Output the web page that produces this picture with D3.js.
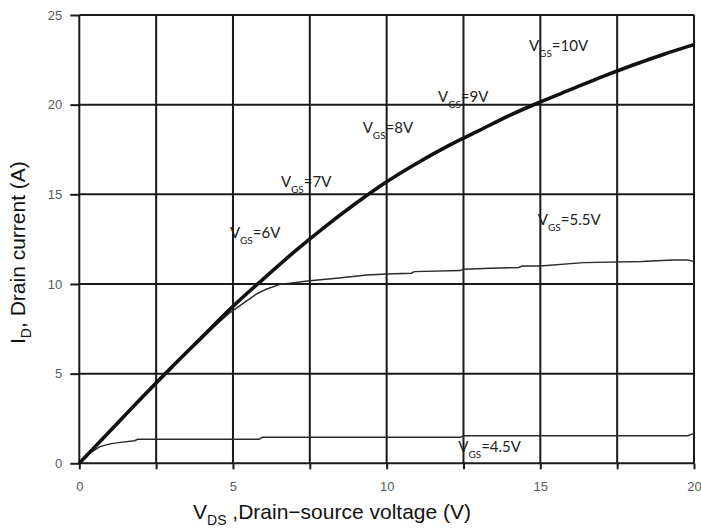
<!DOCTYPE html>
<html>
<head>
<meta charset="utf-8">
<script src="https://cdn.jsdelivr.net/npm/d3@7"></script>
<style>
  body { margin: 0; background: #fff; }
  svg { display: block; }
</style>
</head>
<body>
<div id="chart"></div>
<script>
// Grid and ticks
const xGrid = [0, 2.5, 5, 7.5, 10, 12.5, 15, 17.5, 20];
const xTickLabels = [0, 5, 10, 15, 20];
const yGrid = [0, 5, 10, 15, 20, 25];

// VGS = 6..10 V curves overlap into one thick line
const vdsHigh = [0, 1, 2, 3, 4, 5, 6, 7, 8, 9, 10, 11, 12, 13, 14, 15, 16, 17, 18, 19, 20];
const idHigh = [0, 1.8, 3.6, 5.35, 7.05, 8.75, 10.3, 11.8, 13.2, 14.5, 15.7, 16.75, 17.7, 18.55, 19.4, 20.15, 20.85, 21.55, 22.2, 22.8, 23.35];

// VGS = 5.5 V
const vds55 = [0, 1, 2, 3, 4, 4.5, 4.92, 5.4, 5.77, 6.1, 6.53, 7.5, 8.37, 9.35, 10, 10.8, 10.9, 12.4, 12.5, 13.4, 14.3, 14.4, 15, 16.4, 18.3, 19.3, 19.8, 20];
const id55 = [0, 1.8, 3.6, 5.35, 7.0, 7.8, 8.42, 9.0, 9.45, 9.72, 9.98, 10.18, 10.32, 10.5, 10.56, 10.6, 10.69, 10.75, 10.82, 10.88, 10.92, 11.0, 11.0, 11.19, 11.25, 11.34, 11.34, 11.25];

// VGS = 4.5 V
const vds45 = [0, 0.33, 0.67, 1.0, 1.33, 1.8, 1.9, 5.85, 5.95, 12.4, 12.5, 19.8, 20];
const id45 = [0, 0.55, 0.93, 1.08, 1.17, 1.26, 1.34, 1.34, 1.45, 1.45, 1.54, 1.54, 1.67];

// Curve annotations
const labelText = ["=10V", "=9V", "=8V", "=7V", "=6V", "=5.5V", "=4.5V"];
const labelVds = [14.63, 11.67, 9.22, 6.56, 4.9, 14.92, 12.33];
const labelId = [23.0, 20.15, 18.44, 15.4, 12.56, 13.29, 0.63];

const width = 701, height = 529;
const svg = d3.select('#chart').append('svg')
  .attr('width', width)
  .attr('height', height);

const x = d3.scaleLinear().domain([0, 20]).range([79.3, 694]);
const y = d3.scaleLinear().domain([0, 25]).range([463.3, 15]);

const gridColor = '#1a1a1a';

// grid lines
svg.append('g').selectAll('line')
  .data(xGrid).enter().append('line')
  .attr('x1', d => x(d)).attr('x2', d => x(d))
  .attr('y1', y(0)).attr('y2', y(25))
  .attr('stroke', gridColor).attr('stroke-width', 2);

svg.append('g').selectAll('line')
  .data(yGrid).enter().append('line')
  .attr('x1', x(0)).attr('x2', x(20))
  .attr('y1', d => y(d)).attr('y2', d => y(d))
  .attr('stroke', gridColor).attr('stroke-width', 2);

// axes (tick marks outside + labels)
const xAxis = svg.append('g')
  .attr('transform', `translate(0,${y(0)})`)
  .call(d3.axisBottom(x).tickValues(xGrid).tickSize(6).tickPadding(12)
    .tickFormat(d => xTickLabels.includes(d) ? d : ''));
const yAxis = svg.append('g')
  .attr('transform', `translate(${x(0)},0)`)
  .call(d3.axisLeft(y).tickValues(yGrid).tickSize(9).tickPadding(8));

[xAxis, yAxis].forEach(g => {
  g.select('.domain').remove();
  g.selectAll('.tick line').attr('stroke', gridColor).attr('stroke-width', 2);
  g.selectAll('.tick text')
    .attr('fill', '#555a60')
    .style('font-family', 'Liberation Sans, Arial, sans-serif')
    .style('font-size', '13px');
});

const line = d3.line().x(d => x(d[0])).y(d => y(d[1]));

// thin curves
svg.append('path')
  .datum(d3.zip(vds55, id55))
  .attr('d', line).attr('fill', 'none')
  .attr('stroke', '#2a2a2a').attr('stroke-width', 1.4);

svg.append('path')
  .datum(d3.zip(vds45, id45))
  .attr('d', line).attr('fill', 'none')
  .attr('stroke', '#2a2a2a').attr('stroke-width', 1.4);

// thick overlapping curves
svg.append('path')
  .datum(d3.zip(vdsHigh, idHigh))
  .attr('d', d3.line().curve(d3.curveMonotoneX).x(d => x(d[0])).y(d => y(d[1])))
  .attr('fill', 'none')
  .attr('stroke', '#111').attr('stroke-width', 3.6);

// curve labels
const labels = svg.append('g')
  .style('font-family', 'Lato, "Open Sans", sans-serif')
  .attr('fill', '#222');
labelText.forEach((t, i) => {
  const txt = labels.append('text')
    .attr('x', x(labelVds[i])).attr('y', y(labelId[i]))
    .style('font-size', '15px');
  txt.append('tspan').text('V');
  txt.append('tspan').attr('dy', 6).style('font-size', '10px').text('GS');
  txt.append('tspan').attr('dy', -6).text(t);
});

// axis titles
const xt = svg.append('text')
  .attr('x', 193).attr('y', 519)
  .style('font-family', 'Liberation Sans, Arial, sans-serif')
  .style('font-size', '21px').attr('fill', '#111');
xt.append('tspan').text('V');
xt.append('tspan').attr('dy', 6).style('font-size', '14px').text('DS');
xt.append('tspan').attr('dy', -6).text(' ,Drain\u2212source voltage (V)');

const yt = svg.append('text')
  .attr('transform', 'translate(25,344) rotate(-90)')
  .style('font-family', 'Liberation Sans, Arial, sans-serif')
  .style('font-size', '21px').attr('fill', '#111');
yt.append('tspan').text('I');
yt.append('tspan').attr('dy', 6).style('font-size', '14px').text('D');
yt.append('tspan').attr('dy', -6).text(', Drain current (A)');
</script>
</body>
</html>
